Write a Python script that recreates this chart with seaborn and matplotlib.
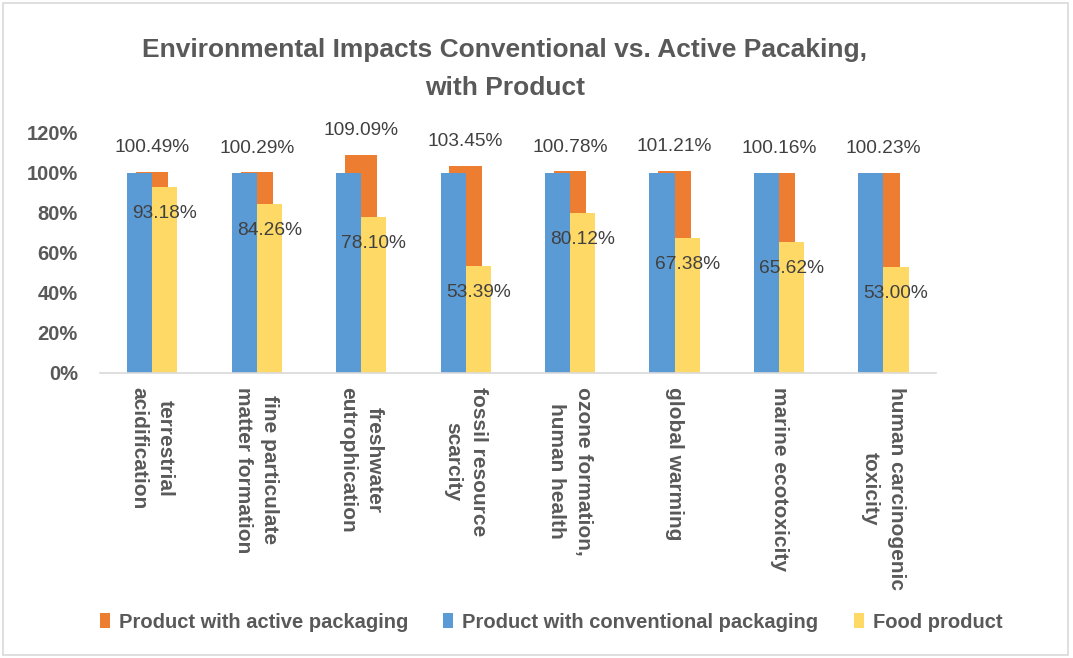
import numpy as np
import pandas as pd
import matplotlib
matplotlib.use("Agg")
import matplotlib.pyplot as plt
import seaborn as sns
from matplotlib.patches import Rectangle

categories = ["terrestrial\nacidification", "fine particulate\nmatter formation",
              "freshwater\neutrophication", "fossil resource\nscarcity",
              "ozone formation,\nhuman health", "global warming",
              "marine ecotoxicity", "human carcinogenic\ntoxicity"]
active = [100.49, 100.29, 109.09, 103.45, 100.78, 101.21, 100.16, 100.23]
conventional = [100, 100, 100, 100, 100, 100, 100, 100]
food = [93.18, 84.26, 78.10, 53.39, 80.12, 67.38, 65.62, 53.00]
yticks = [0, 20, 40, 60, 80, 100, 120]

C_ORANGE = "#ED7D31"
C_BLUE = "#5B9BD5"
C_YELLOW = "#FFD966"
TXT = "#595959"
LBL = "#404040"

sns.set_theme(style="white")
plt.rcParams['font.family'] = ['Liberation Sans', 'DejaVu Sans']

fig = plt.figure(figsize=(10.73, 6.58), dpi=100)
ax = fig.add_axes([100/1073, 1-373/658, (935.7-100)/1073, (373-133)/658])

pos = np.arange(len(categories))
bw = 0.24
df_a = pd.DataFrame({"x": pos.astype(float), "v": np.array(active)/100})
df_c = pd.DataFrame({"x": pos - bw/2, "v": np.array(conventional)/100})
df_f = pd.DataFrame({"x": pos + bw/2, "v": np.array(food)/100})

sns.barplot(data=df_a, x="x", y="v", native_scale=True, width=0.31, color=C_ORANGE,
            saturation=1, ax=ax, linewidth=0, label="Product with active packaging")
sns.barplot(data=df_c, x="x", y="v", native_scale=True, width=bw, color=C_BLUE,
            saturation=1, ax=ax, linewidth=0, label="Product with conventional packaging")
sns.barplot(data=df_f, x="x", y="v", native_scale=True, width=bw, color=C_YELLOW,
            saturation=1, ax=ax, linewidth=0, label="Food product")

ax.set_xlim(-0.5, len(categories) - 0.5)
ax.set_ylim(0, 1.2)
ax.set_yticks(np.array(yticks)/100)
ax.set_yticklabels([f"{t}%" for t in yticks], fontsize=14.5, fontweight="bold", color=TXT)
ax.tick_params(axis="y", length=0, pad=16)
ax.set_xticks(pos)
ax.set_xticklabels(categories, rotation=270, fontsize=15, fontweight="bold", color=TXT,
                   va="top", ha="center", multialignment="center", linespacing=1.5)
ax.tick_params(axis="x", length=0, pad=10)
ax.set_xlabel("")
ax.set_ylabel("")
for s in ["top", "right", "left"]:
    ax.spines[s].set_visible(False)
ax.spines["bottom"].set_color("#D9D9D9")
ax.spines["bottom"].set_linewidth(1.2)
ax.grid(False)

for i in range(len(categories)):
    ax.annotate(f"{active[i]:.2f}%", (pos[i], active[i]/100), xytext=(0, 17.5),
                textcoords="offset points", ha="center", va="center",
                fontsize=13.8, color=LBL, annotation_clip=False)
    ax.annotate(f"{food[i]:.2f}%", (pos[i] + bw/2, food[i]/100), xytext=(0, -19),
                textcoords="offset points", ha="center", va="center",
                fontsize=13.8, color=LBL, annotation_clip=False)

fig.text(505/1073, 1-50/658, "Environmental Impacts Conventional vs. Active Pacaking,",
         ha="center", va="center", fontsize=19, fontweight="bold", color=TXT)
fig.text(505/1073, 1-88/658, "with Product",
         ha="center", va="center", fontsize=19, fontweight="bold", color=TXT)

handles, labels = ax.get_legend_handles_labels()
leg = fig.legend(handles, labels, loc="center", bbox_to_anchor=(551/1073, 1-622/658),
                 ncol=3, frameon=False, handlelength=0.5, handleheight=0.8,
                 handletextpad=0.45, columnspacing=1.75,
                 prop={"size": 14.5, "weight": "bold"})
for t in leg.get_texts():
    t.set_color(TXT)
if ax.get_legend() is not None:
    ax.get_legend().remove()

fig.patches.append(Rectangle((3/1073, 3/658), 1065/1073, 652/658, transform=fig.transFigure,
                             fill=False, edgecolor="#D9D9D9", linewidth=1.2))

fig.savefig("out.png", dpi=100)
